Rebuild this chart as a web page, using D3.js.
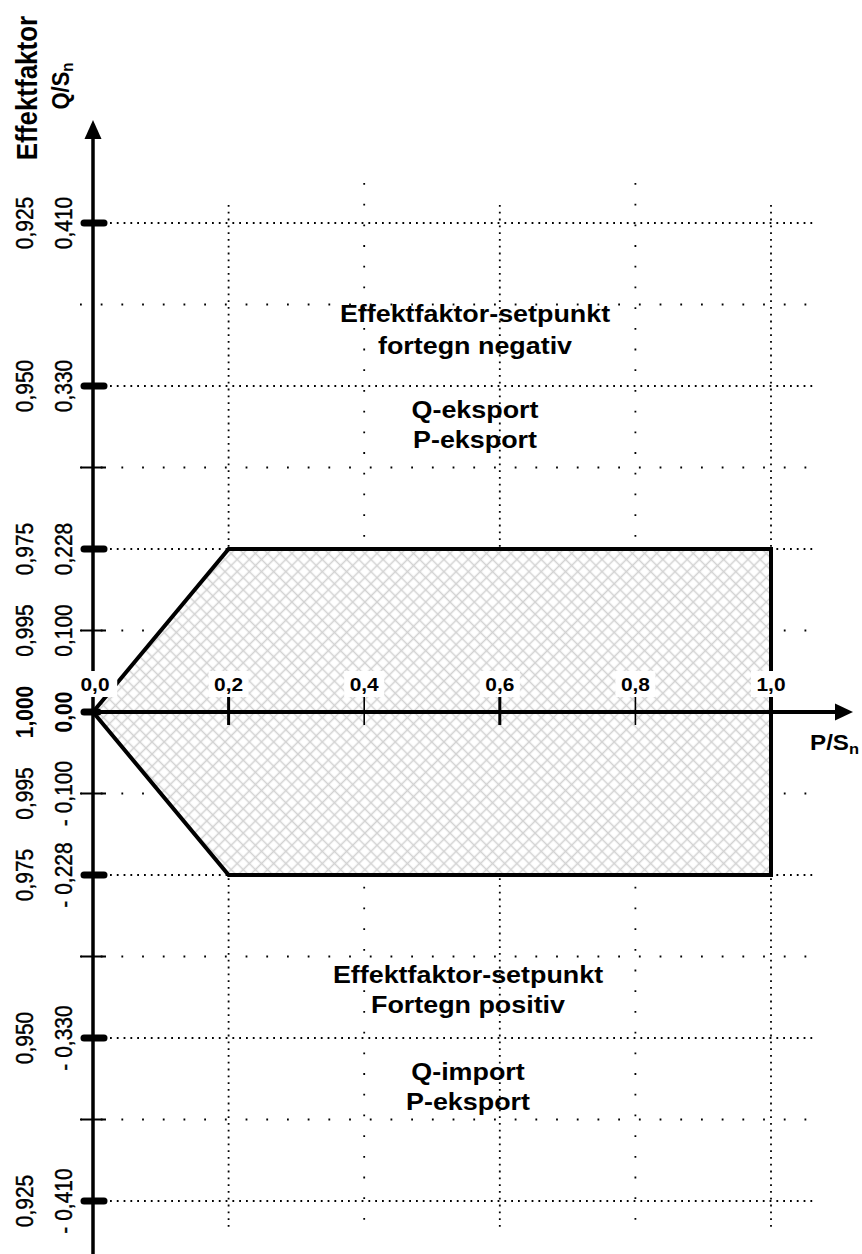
<!DOCTYPE html>
<html><head><meta charset="utf-8">
<script src="https://cdn.jsdelivr.net/npm/d3@7"></script>
<style>body{margin:0;background:#fff} svg{display:block} text{font-family:"Liberation Sans",Arial,sans-serif;fill:#000}</style>
</head><body><svg id="c" width="862" height="1254"></svg>
<script>
// ---- data ----
const qTicks   = [0.41, 0.37, 0.33, 0.279, 0.228, 0.1, 0, -0.1, -0.228, -0.279, -0.33, -0.37, -0.41];
const qTickKind = ["major","none","major","minor","major","minor","zero","minor","major","minor","major","minor","major"];
const qLabels  = ["0,410","","0,330","","0,228","0,100","0,00","- 0,100","- 0,228","","- 0,330","","- 0,410"];
const pfLabels = ["0,925","","0,950","","0,975","0,995","1,000","0,995","0,975","","0,950","","0,925"];
const pTicks   = [0, 0.2, 0.4, 0.6, 0.8, 1.0];
const pLabels  = ["0,0","0,2","0,4","0,6","0,8","1,0"];
const pGridKind = ["none","dense","sparse","dense","sparse","dense"];
const regionP  = [0, 0.2, 1.0, 1.0, 0.2];
const regionQ  = [0, 0.228, 0.228, -0.228, -0.228];
const upperText = ["Effektfaktor-setpunkt","fortegn negativ","Q-eksport","P-eksport"];
const lowerText = ["Effektfaktor-setpunkt","Fortegn positiv","Q-import","P-eksport"];

// ---- scales ----
const yTop = 223, yStep = 81.5;
const y = d3.scaleLinear().domain(qTicks).range(qTicks.map((d,i)=>yTop+i*yStep));
const x = d3.scaleLinear().domain([0,1]).range([93,771]);
const SX = 1.12;

const svg = d3.select("#c");
svg.append("rect").attr("width",862).attr("height",1254).attr("fill","#fff");

const defs = svg.append("defs");
const pat = defs.append("pattern").attr("id","hatch").attr("patternUnits","userSpaceOnUse")
  .attr("width",8.6).attr("height",8.6).attr("patternTransform","rotate(45)");
pat.append("rect").attr("width",8.6).attr("height",8.6).attr("fill","#fff");
pat.append("path").attr("d","M0,4.3H8.6M4.3,0V8.6").attr("stroke","#d2d2d2").attr("stroke-width",1.5);

// ---- grid ----
const grid = svg.append("g");
qTicks.forEach((q,i)=>{
  const k = qTickKind[i];
  if (k==="major") {
    grid.append("line").attr("x1",110).attr("x2",814).attr("y1",y(q)).attr("y2",y(q))
      .attr("stroke","#000").attr("stroke-width",1.8).attr("stroke-dasharray","1.8 5");
  } else if (k==="minor" || k==="none") {
    grid.append("line").attr("x1",80).attr("x2",812).attr("y1",y(q)).attr("y2",y(q))
      .attr("stroke","#000").attr("stroke-width",1.8).attr("stroke-dasharray","1.8 18.9");
  }
});
pTicks.forEach((p,i)=>{
  const k = pGridKind[i];
  if (k==="dense") {
    grid.append("line").attr("x1",x(p)).attr("x2",x(p)).attr("y1",205).attr("y2",1230)
      .attr("stroke","#000").attr("stroke-width",1.8).attr("stroke-dasharray","1.8 5");
  } else if (k==="sparse") {
    grid.append("line").attr("x1",x(p)).attr("x2",x(p)).attr("y1",183).attr("y2",1230)
      .attr("stroke","#000").attr("stroke-width",1.8).attr("stroke-dasharray","1.8 18.9");
  }
});

// ---- region ----
const pts = regionP.map((p,i)=>[x(p), y(regionQ[i])]);
svg.append("path").attr("d", d3.line()(pts)+"Z")
  .attr("fill","url(#hatch)").attr("stroke","#000").attr("stroke-width",4).attr("stroke-linejoin","miter");

// ---- axes ----
const ax = svg.append("g");
ax.append("line").attr("x1",x(0)).attr("x2",x(0)).attr("y1",136).attr("y2",1254).attr("stroke","#000").attr("stroke-width",3.5);
ax.append("path").attr("d",`M${x(0)},120L${x(0)-8.5},139L${x(0)+8.5},139Z`).attr("fill","#000");
ax.append("line").attr("x1",x(0)).attr("x2",838).attr("y1",y(0)).attr("y2",y(0)).attr("stroke","#000").attr("stroke-width",4);
ax.append("path").attr("d",`M853,${y(0)}L835,${y(0)-8.5}L835,${y(0)+8.5}Z`).attr("fill","#000");

// y ticks
qTicks.forEach((q,i)=>{
  const k = qTickKind[i];
  if (k==="major" || k==="zero") {
    ax.append("line").attr("x1",84).attr("x2",k==="zero"?98:104).attr("y1",y(q)).attr("y2",y(q))
      .attr("stroke","#000").attr("stroke-width",7).attr("stroke-linecap","round");
  } else if (k==="minor") {
    ax.append("line").attr("x1",81).attr("x2",106).attr("y1",y(q)).attr("y2",y(q))
      .attr("stroke","#000").attr("stroke-width",2);
  }
});
// x ticks
pTicks.forEach((p,i)=>{
  if (i===0 || i===pTicks.length-1) return;
  ax.append("line").attr("x1",x(p)).attr("x2",x(p)).attr("y1",697).attr("y2",725)
    .attr("stroke","#000").attr("stroke-width", i%2===1 ? 3 : 1.6);
});

// ---- y labels (rotated) ----
function vtext(bx, cy, str, size, bold){
  const g = svg.append("g").attr("transform",`translate(${bx},${cy}) scale(${SX},1) rotate(-90)`);
  return g.append("text").attr("text-anchor","middle").attr("font-size",size)
    .attr("font-weight",bold?"bold":"normal").attr("stroke","#000").attr("stroke-width",bold?0:0.35).text(str);
}
qTicks.forEach((q,i)=>{
  if (qLabels[i]) vtext(72, y(q), qLabels[i], 21, q===0);
  if (pfLabels[i]) vtext(33, y(q), pfLabels[i], 21, q===0);
});
vtext(37, 88, "Effektfaktor", 26, true);
{
  const t = svg.append("g").attr("transform",`translate(69,86) scale(${SX},1) rotate(-90)`)
    .append("text").attr("text-anchor","middle").attr("font-size",22).attr("font-weight","bold");
  t.append("tspan").text("Q/S");
  t.append("tspan").attr("font-size",15).attr("dy",4).text("n");
}

// ---- x labels with white boxes ----
pTicks.forEach((p,i)=>{
  const g = svg.append("g").attr("transform",`translate(${x(p)+(i===0?2:0)},691) scale(1.1,1)`);
  const t = g.append("text").attr("text-anchor","middle").attr("font-size",19).attr("font-weight","bold").text(pLabels[i]);
  const b = t.node().getBBox();
  const pad = i===0 ? 7 : 5;
  g.insert("rect","text").attr("x",b.x-pad).attr("y",-20).attr("width",b.width+2*pad).attr("height",26).attr("fill","#fff");
});
{
  const g = svg.append("g").attr("transform",`translate(810,750) scale(1.1,1)`);
  const t = g.append("text").attr("font-size",22).attr("font-weight","bold");
  t.append("tspan").text("P/S");
  t.append("tspan").attr("font-size",15).attr("dy",4).text("n");
}

// ---- region texts ----
function htext(cx, base, str){
  svg.append("g").attr("transform",`translate(${cx},${base}) scale(${SX},1)`)
    .append("text").attr("text-anchor","middle").attr("font-size",24).attr("font-weight","bold").text(str);
}
[322,354,418,448].forEach((b,i)=>htext(475,b,upperText[i]));
[983,1013,1080,1110].forEach((b,i)=>htext(468,b,lowerText[i]));
</script></body></html>
